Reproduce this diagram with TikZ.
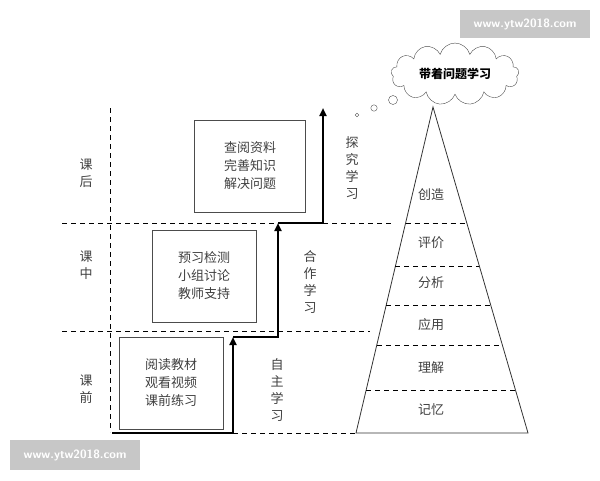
\documentclass[tikz,border=0pt]{standalone}
\usepackage{fontspec}
\setmainfont{Noto Sans CJK SC}
\usetikzlibrary{positioning, calc, shapes.symbols, arrows.meta}

\begin{document}
\begin{tikzpicture}
        [
        x=1pt, y=-1pt,
        font=\fontsize{13}{15}\selectfont,
        every node/.style = {text=black!75},
        divline/.style = {dashed, line width=1pt, dash pattern=on 5pt off 4pt},
        stepbox/.style = {draw=black!70, thick, minimum width=104pt, minimum height=92pt, align=center, inner sep=2pt},
        stair/.style = {line width=2.2pt, -{Triangle[length=8pt, width=7pt]}},
        vlabel/.style = {align=center, font=\fontsize{13}{17}\selectfont},
        wmark/.style = {fill=black!22, text=white, font=\sffamily\fontsize{12}{14}\selectfont\bfseries}
        ]
    \useasboundingbox (0,0) rectangle (600,480);
    % time periods
    \draw[divline] (110,108) -- (110,432);
    \draw[divline] (62,223) -- (394,223);
    \draw[divline] (62,331) -- (370,331);
    \draw[divline] (233,433) -- (356,433);
    \node[vlabel] (after) at (86,173) {课\\后};
    \node[vlabel] (during) at (86,265) {课\\中};
    \node[vlabel] (before) at (86,389) {课\\前};

    % activity boxes
    \node[stepbox, align=left] (b1) at (171,383) {阅读教材\\[3pt]观看视频\\[3pt]课前练习};
    \node[stepbox] (b2) at (204,276) {预习检测\\[3pt]小组讨论\\[3pt]教师支持};
    \node[stepbox, minimum width=111pt] (b3) at (250,166) {查阅资料\\[3pt]完善知识\\[3pt]解决问题};

    % stairs
    \coordinate (s0) at (113,433);
    \coordinate (s1) at (233,337);
    \coordinate (s2) at (278,223);
    \coordinate (s3) at (323,108);
    \draw[stair, line cap=rect] (s0) -| (s1);
    \draw[stair] (s1) -| (s2);
    \draw[stair] (s2) -| (s3);
    \node[vlabel] (self) at (277,390) {自\\主\\学\\习};
    \node[vlabel] (coop) at (310,282) {合\\作\\学\\习};
    \node[vlabel] (inq) at (352,168) {探\\究\\学\\习};

    % pyramid
    \coordinate (top) at (433,107);
    \coordinate (bl) at (356,433);
    \coordinate (br) at (528,433);
    \draw[thick, black!80] (top) -- (bl) -- (br) -- cycle;
    \foreach \yy in {223,266,305,345,390} {
        \draw[divline] ($(top)!{(\yy-107)/326}!(bl)$) -- ($(top)!{(\yy-107)/326}!(br)$);
    }
    \node (create) at (431,195) {创造};
    \node (eval) at (431,243) {评价};
    \node (anal) at (431,283) {分析};
    \node (apply) at (431,325) {应用};
    \node (under) at (431,368) {理解};
    \node (memo) at (431,410) {记忆};

    % thought cloud
    \node[cloud, draw=black!70, cloud puffs=13, aspect=2.6, minimum width=128pt, minimum height=48pt,
          font=\fontsize{12}{14}\selectfont\bfseries, text=black] (cloud) at (455,74) {带着问题学习};
    \draw[black!70] (393,100) circle (4.5);
    \draw[black!70] (374,108) circle (3.2);
    \draw[black!70] (357,115) circle (1.8);

    % watermarks
    \node[wmark, minimum width=130pt, minimum height=28pt] (wm1) at (525,24) {www.ytw2018.com};
    \node[wmark, minimum width=130pt, minimum height=30pt] (wm2) at (75,455) {www.ytw2018.com};
\end{tikzpicture}
\end{document}
